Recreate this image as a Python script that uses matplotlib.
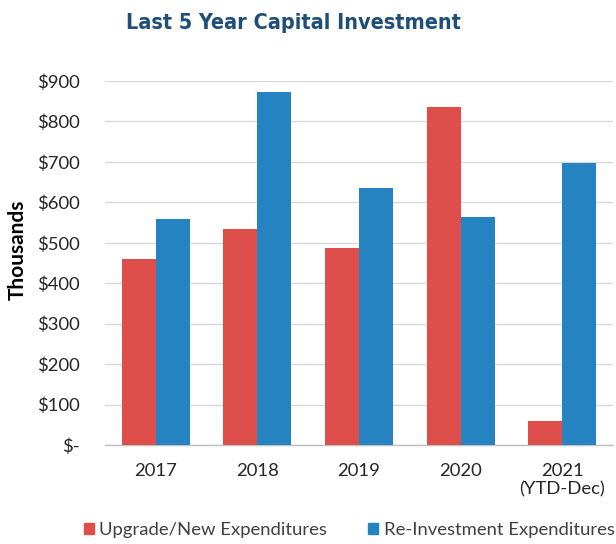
import matplotlib
matplotlib.use("Agg")
import matplotlib.pyplot as plt
import numpy as np
from matplotlib.patches import Patch

categories = ["2017", "2018", "2019", "2020", "2021\n(YTD-Dec)"]
upgrade_new = [459, 533, 487, 836, 59]
reinvestment = [558, 873, 636, 564, 697]
series_names = ["Upgrade/New Expenditures", "Re-Investment Expenditures"]
yticks = [0, 100, 200, 300, 400, 500, 600, 700, 800, 900]
ytick_labels = ["$-", "$100", "$200", "$300", "$400", "$500", "$600", "$700", "$800", "$900"]

red = "#DE4F4C"
blue = "#2683C2"
navy = "#1F4E79"
txt = "#262626"

plt.rcParams['font.family'] = ['Lato', 'DejaVu Sans']

fig = plt.figure(figsize=(6.16, 5.44), dpi=100)
ax = fig.add_axes([105/616, 1-445/544, (613-105)/616, (445-81)/544])

x = np.arange(len(categories))
w = 0.335
ax.bar(x - w/2, upgrade_new, width=w, color=red, zorder=3)
ax.bar(x + w/2, reinvestment, width=w, color=blue, zorder=3)

ax.set_xlim(-0.5, len(categories) - 0.5)
ax.set_ylim(0, 900)
ax.set_yticks(yticks)
ax.set_yticklabels(ytick_labels)
ax.set_xticks(x)
ax.set_xticklabels(categories)
ax.grid(axis='y', color="#D9D9D9", linewidth=1, zorder=0)
for s in ["top", "right", "left"]:
    ax.spines[s].set_visible(False)
ax.spines["bottom"].set_color("#BFBFBF")
ax.spines["bottom"].set_linewidth(1)
ax.tick_params(axis='both', length=0, labelsize=13.3, colors=txt)
ax.tick_params(axis='y', pad=18)
ax.tick_params(axis='x', pad=13)

fig.text(18/616, 1-250/544, "Thousands", rotation=90, ha='center', va='center',
         fontsize=15, fontweight='bold', color='black')

fig.text(293/616, 1-23/544, "Last 5 Year Capital Investment", ha='center', va='center',
         fontsize=15.5, fontweight='bold', color=navy, fontstretch='condensed',
         family=['Liberation Sans Narrow', 'DejaVu Sans Condensed', 'DejaVu Sans'])

handles = [Patch(color=red), Patch(color=blue)]
fig.legend(handles, series_names, loc='center', bbox_to_anchor=(349/616, 1-530/544),
           ncol=2, frameon=False, fontsize=13.3, handlelength=0.55, handleheight=0.55,
           handletextpad=0.3, columnspacing=2.2, labelcolor="#404040")

fig.savefig("out.png", dpi=100)
